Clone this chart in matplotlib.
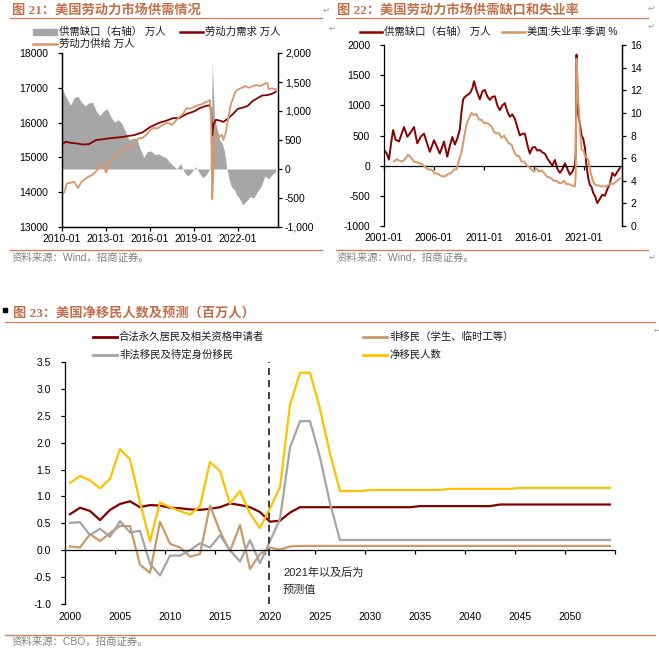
import numpy as np
import pandas as pd
import matplotlib
matplotlib.use("Agg")
import matplotlib.pyplot as plt
import matplotlib.dates as mdates
from matplotlib.lines import Line2D
from matplotlib.patches import Rectangle
from matplotlib.ticker import FormatStrFormatter, FuncFormatter

plt.rcParams['font.family'] = ['Liberation Sans', 'Noto Sans CJK SC', 'DejaVu Sans']
plt.rcParams['font.size'] = 7.5
plt.rcParams['axes.unicode_minus'] = False

# ---------------- data ----------------
# Chart 21 : labour demand / supply (万人)
demand_dates = ["2010-01", "2010-04", "2010-08", "2011-01", "2011-06", "2011-11", "2012-05", "2012-10",
                "2013-04", "2013-10", "2014-03", "2014-08", "2014-12", "2015-07", "2016-01", "2016-04",
                "2016-09", "2017-02", "2017-08", "2018-01", "2018-07", "2019-01", "2019-06", "2019-11",
                "2020-02", "2020-03", "2020-04", "2020-05", "2020-07", "2020-10", "2021-01", "2021-05",
                "2021-09", "2022-01", "2022-05", "2022-09", "2023-01", "2023-05", "2023-09", "2024-01",
                "2024-05", "2024-08"]
demand_vals = [15370, 15450, 15420, 15400, 15370, 15380, 15500, 15520,
               15550, 15570, 15590, 15620, 15640, 15720, 15870, 15920,
               16000, 16050, 16130, 16130, 16250, 16320, 16420, 16480,
               16500, 16350, 15640, 15950, 16080, 16060, 16020, 16120,
               16250, 16400, 16430, 16480, 16620, 16700, 16780, 16790,
               16830, 16890]

supply_dates = ["2010-01", "2010-03", "2010-05", "2010-08", "2010-11", "2011-02", "2011-05", "2011-08",
                "2011-11", "2012-02", "2012-05", "2012-08", "2012-11", "2013-01", "2013-04", "2013-07",
                "2013-10", "2014-01", "2014-04", "2014-07", "2014-10", "2015-01", "2015-04", "2015-07",
                "2015-10", "2016-01", "2016-04", "2016-07", "2016-10", "2017-01", "2017-04", "2017-07",
                "2017-10", "2018-01", "2018-04", "2018-07", "2018-10", "2019-01", "2019-04", "2019-07",
                "2019-10", "2020-01", "2020-02", "2020-03", "2020-04", "2020-05", "2020-06", "2020-08",
                "2020-10", "2020-12", "2021-01", "2021-03", "2021-05", "2021-07", "2021-09", "2021-11",
                "2022-01", "2022-04", "2022-07", "2022-10", "2023-01", "2023-04", "2023-07", "2023-10",
                "2024-01", "2024-02", "2024-05", "2024-08"]
supply_vals = [13950, 14000, 14250, 14270, 14300, 14120, 14300, 14380,
               14450, 14500, 14600, 14750, 14800, 14560, 14850, 14950,
               15050, 15200, 15230, 15330, 15300, 15450, 15550, 15560,
               15650, 15780, 15850, 15830, 15900, 15970, 16000, 15930,
               16050, 16160, 16250, 16420, 16400, 16450, 16500, 16520,
               16580, 16620, 16650, 16250, 13800, 14700, 15500, 15700,
               15600, 15650, 15500, 15700, 16100, 16500, 16700, 16900,
               16950, 17000, 17050, 17000, 17050, 17080, 17050, 17100,
               17140, 16970, 16980, 16960]

# Supply-demand gap (万人), used in chart 21 (from 2010) and chart 22
gap_dates = ["2001-01", "2001-04", "2001-07", "2001-10", "2001-12", "2002-03", "2002-07", "2002-10",
             "2003-01", "2003-05", "2003-08", "2004-01", "2004-05", "2004-09", "2005-01", "2005-04",
             "2005-08", "2006-01", "2006-04", "2006-08", "2007-01", "2007-05", "2007-08", "2007-11",
             "2008-02", "2008-05", "2008-08", "2008-10", "2008-12", "2009-02", "2009-05", "2009-08",
             "2009-11", "2010-01", "2010-04", "2010-08", "2010-11", "2011-02", "2011-05", "2011-08",
             "2011-11", "2012-02", "2012-05", "2012-08", "2012-11", "2013-02", "2013-05", "2013-08",
             "2013-11", "2014-02", "2014-05", "2014-08", "2014-11", "2015-02", "2015-05", "2015-08",
             "2015-11", "2016-02", "2016-05", "2016-08", "2016-11", "2017-02", "2017-05", "2017-08",
             "2017-11", "2018-02", "2018-05", "2018-08", "2018-11", "2019-02", "2019-05", "2019-08",
             "2019-11", "2020-01", "2020-02", "2020-03", "2020-04", "2020-05", "2020-06", "2020-08",
             "2020-10", "2020-12", "2021-02", "2021-04", "2021-06", "2021-08", "2021-10", "2021-12",
             "2022-02", "2022-05", "2022-08", "2022-11", "2023-02", "2023-05", "2023-08", "2023-11",
             "2024-02", "2024-05", "2024-08"]
gap_vals = [260, 210, 100, 420, 590, 430, 400, 520,
            640, 480, 530, 640, 370, 480, 530, 400,
            230, 420, 330, 200, 400, 150, 330, 475,
            350, 450, 600, 900, 1100, 1140, 1170, 1200,
            1280, 1400, 1250, 1100, 1230, 1255, 1150, 1090,
            1140, 1150, 1000, 920, 1000, 1035, 900, 810,
            850, 780, 640, 500, 530, 530, 350, 200,
            300, 310, 250, 260, 220, 200, 120, 60,
            0, 95, -50, -120, -60, 40, -50, -150,
            -100, -30, 0, 200, 1840, 1300, 850, 700,
            500, 450, 300, 0, -200, -320, -350, -450,
            -500, -620, -550, -480, -500, -390, -300, -120,
            -170, -100, -40]

# US unemployment rate, s.a. (%)
unemp_dates = ["2002-01", "2002-04", "2002-07", "2002-10", "2003-01", "2003-06", "2003-09", "2004-01",
               "2004-06", "2004-10", "2005-01", "2005-06", "2005-10", "2006-01", "2006-06", "2006-10",
               "2007-03", "2007-06", "2007-10", "2008-01", "2008-04", "2008-07", "2008-10", "2009-01",
               "2009-04", "2009-07", "2009-10", "2010-01", "2010-04", "2010-07", "2010-10", "2011-01",
               "2011-04", "2011-07", "2011-10", "2012-01", "2012-04", "2012-07", "2012-10", "2013-01",
               "2013-04", "2013-07", "2013-10", "2014-01", "2014-04", "2014-07", "2014-10", "2015-01",
               "2015-04", "2015-07", "2015-10", "2016-01", "2016-04", "2016-07", "2016-10", "2017-01",
               "2017-04", "2017-07", "2017-10", "2018-01", "2018-04", "2018-07", "2018-10", "2019-01",
               "2019-04", "2019-07", "2019-10", "2020-01", "2020-02", "2020-03", "2020-04", "2020-05",
               "2020-06", "2020-07", "2020-08", "2020-09", "2020-10", "2020-12", "2021-03", "2021-06",
               "2021-09", "2021-12", "2022-03", "2022-06", "2022-09", "2022-12", "2023-03", "2023-06",
               "2023-09", "2023-12", "2024-03", "2024-06", "2024-08"]
unemp_vals = [5.7, 5.9, 5.8, 5.7, 5.8, 6.3, 6.1, 5.7,
              5.6, 5.5, 5.3, 5.0, 5.0, 4.7, 4.6, 4.4,
              4.4, 4.6, 4.7, 5.0, 5.0, 5.8, 6.5, 7.8,
              9.0, 9.5, 10.0, 9.8, 9.9, 9.4, 9.4, 9.1,
              9.1, 9.0, 8.8, 8.3, 8.2, 8.2, 7.8, 8.0,
              7.6, 7.3, 7.2, 6.6, 6.2, 6.2, 5.7, 5.7,
              5.4, 5.2, 5.0, 4.8, 5.1, 4.8, 4.9, 4.7,
              4.4, 4.3, 4.2, 4.0, 4.0, 3.8, 3.8, 4.0,
              3.7, 3.7, 3.6, 3.5, 3.5, 4.4, 14.8, 13.2,
              11.0, 10.2, 8.4, 7.8, 6.8, 6.7, 6.1, 5.9,
              4.7, 3.9, 3.6, 3.6, 3.5, 3.5, 3.5, 3.6,
              3.8, 3.7, 3.9, 4.1, 4.2]

# Chart 23 : US net immigration and projection (million)
years23 = list(range(2000, 2055))
legal_perm = ([0.67, 0.79, 0.73, 0.56, 0.75, 0.86, 0.91, 0.80, 0.84, 0.83, 0.79, 0.78,
               0.76, 0.75, 0.77, 0.80, 0.87, 0.84, 0.80, 0.71, 0.53, 0.55, 0.70, 0.80]
              + [0.80] * 11 + [0.82] * 8 + [0.85] * 12)
non_immig = ([0.07, 0.05, 0.30, 0.17, 0.32, 0.45, 0.45, -0.27, -0.42, 0.53, 0.12, 0.05,
              -0.12, -0.07, 0.83, 0.35, -0.02, 0.47, -0.35, -0.07, 0.05, 0.01, 0.07]
             + [0.08] * 32)
other_immig = ([0.51, 0.52, 0.28, 0.40, 0.25, 0.54, 0.33, 0.36, -0.25, -0.47, -0.10, -0.10,
                0.00, 0.13, 0.05, 0.28, 0.00, -0.21, 0.19, -0.24, 0.17, 0.58, 1.91, 2.40,
                2.40, 1.73, 0.87] + [0.19] * 28)
net_immig = ([1.25, 1.38, 1.30, 1.15, 1.33, 1.88, 1.69, 0.89, 0.17, 0.89, 0.80, 0.73,
              0.66, 0.82, 1.64, 1.47, 0.87, 1.10, 0.68, 0.41, 0.78, 1.17, 2.70, 3.30,
              3.30, 2.63, 1.80] + [1.10] * 3 + [1.12] * 8 + [1.14] * 7 + [1.16] * 10)

# ---------------- styling ----------------
W, H = 659, 654
TITLE_C = '#C0704B'
RULE_C = '#C98462'
SRC_C = '#808080'
DRED = '#8B0000'
TAN = '#D9976A'
GREY_AREA = '#A6A6A6'
C23_RED = '#800000'
C23_TAN = '#CC9966'
C23_GREY = '#A5A5A5'
C23_YEL = '#FFC000'

fig = plt.figure(figsize=(W / 100, H / 100), dpi=100)
fig.patch.set_facecolor('white')


def fx(x):
    return x / W


def fy(y):
    return 1 - y / H


def rect(l, t, r, b):
    return [l / W, 1 - b / H, (r - l) / W, (b - t) / H]


def hline(x0, x1, y, color, lw=1.0):
    fig.add_artist(Line2D([fx(x0), fx(x1)], [fy(y), fy(y)], color=color, lw=lw,
                          transform=fig.transFigure))


def title(x, y, s):
    fig.text(fx(x), fy(y), s, color=TITLE_C, fontsize=9.5, fontweight='bold',
             va='center', ha='left', family=['Liberation Serif', 'Noto Sans CJK SC'])


def src(x, y, s):
    fig.text(fx(x), fy(y), s, color=SRC_C, fontsize=7.5, va='center', ha='left')


def leg_line(x0, x1, y, color, lw, text):
    hline(x0, x1, y, color, lw)
    fig.text(fx(x1 + 2), fy(y), text, fontsize=7.5, va='center', ha='left', color='#1a1a1a')


def retmark(x, y):
    fig.text(fx(x), fy(y), '↵', fontsize=6, color='#9a9a9a', va='center', ha='center',
             family=['DejaVu Sans'])


def to_num(dates):
    return mdates.date2num(pd.to_datetime(dates))


# ---------------- headers ----------------
title(12, 10, '图 21：美国劳动力市场供需情况')
hline(10, 322, 18, RULE_C, 1.0)
title(337, 10, '图 22：美国劳动力市场供需缺口和失业率')
hline(336, 648, 18, RULE_C, 1.0)
retmark(326, 10)
retmark(651, 8)
retmark(651, 26)
retmark(332, 28)

hline(10, 322, 250, RULE_C, 1.0)
hline(336, 648, 250, RULE_C, 1.0)
src(12, 258, '资料来源：Wind，招商证券。')
src(337, 258, '资料来源：Wind，招商证券。')
retmark(652, 257)

fig.add_artist(Rectangle((fx(3), fy(312)), 3.5 / W, 4.5 / H, color='black',
                         transform=fig.transFigure))
title(13, 313, '图 23：美国净移民人数及预测（百万人）')
hline(5, 655, 322, RULE_C, 1.0)
retmark(657, 330)
hline(5, 655, 635, RULE_C, 1.0)
src(12, 642, '资料来源：CBO，招商证券。')

# ---------------- chart 21 ----------------
ax1 = fig.add_axes(rect(62, 53, 278, 227))
ax1r = ax1.twinx()
gx = to_num(gap_dates)
gv = np.array(gap_vals, dtype=float)
m = gx >= mdates.date2num(pd.Timestamp('2010-01-01'))
ax1r.fill_between(gx[m], gv[m], 0, color=GREY_AREA, lw=0)
ax1.set_zorder(ax1r.get_zorder() + 1)
ax1.patch.set_visible(False)
ax1.plot(to_num(demand_dates), demand_vals, color=DRED, lw=1.3)
ax1.plot(to_num(supply_dates), supply_vals, color=TAN, lw=1.3)

ax1.set_ylim(13000, 18000)
ax1r.set_ylim(-1000, 2000)
ax1.set_xlim(mdates.date2num(pd.Timestamp('2010-01-01')), mdates.date2num(pd.Timestamp('2024-09-24')))
ax1.set_yticks(np.arange(13000, 18001, 1000))
ax1r.set_yticks(np.arange(-1000, 2001, 500))
ax1r.yaxis.set_major_formatter(FuncFormatter(lambda v, p: f'{int(v):,}'))
t21 = ['2010-01', '2013-01', '2016-01', '2019-01', '2022-01']
ax1.set_xticks(to_num(t21))
ax1.set_xticklabels(t21)
for a in (ax1, ax1r):
    a.spines['top'].set_visible(False)
    for s in a.spines.values():
        s.set_linewidth(0.9)
ax1.tick_params(axis='x', length=3, width=0.9, pad=2)
ax1.tick_params(axis='y', length=3, width=0.9, pad=7)
ax1r.tick_params(axis='y', length=3, width=0.9, pad=2)

leg_x = 33
fig.add_artist(Rectangle((fx(33), fy(35)), 24 / W, 6 / H, color=GREY_AREA, transform=fig.transFigure))
fig.text(fx(59), fy(32), '供需缺口（右轴） 万人', fontsize=7.5, va='center', ha='left', color='#1a1a1a')
leg_line(180, 203, 32, DRED, 1.8, '劳动力需求 万人')
leg_line(33, 57, 44, TAN, 1.8, '劳动力供给 万人')

# ---------------- chart 22 ----------------
ax2 = fig.add_axes(rect(384, 45, 622, 226))
ax2.plot(gx, gv, color=DRED, lw=1.4)
ax2r = ax2.twinx()
ax2r.plot(to_num(unemp_dates), unemp_vals, color=TAN, lw=1.4)
ax2.set_ylim(-1000, 2000)
ax2r.set_ylim(0, 16)
ax2.set_xlim(mdates.date2num(pd.Timestamp('2001-01-01')), mdates.date2num(pd.Timestamp('2024-10-18')))
ax2.set_yticks(np.arange(-1000, 2001, 500))
ax2r.set_yticks(np.arange(0, 17, 2))
t22 = ['2001-01', '2006-01', '2011-01', '2016-01', '2021-01']
ax2.spines['bottom'].set_position(('data', 0))
ax2.spines['top'].set_visible(False)
for s in ('top', 'bottom', 'left'):
    ax2r.spines[s].set_visible(False)
for a in (ax2, ax2r):
    for s in a.spines.values():
        s.set_linewidth(0.9)
ax2.set_xticks(to_num(t22))
ax2.set_xticklabels([])
ax2.tick_params(axis='x', length=3, width=0.9)
ax2.tick_params(axis='y', length=3, width=0.9, pad=7)
ax2r.tick_params(axis='y', length=3, width=0.9, pad=3)
sec2 = ax2.secondary_xaxis(0.0)
sec2.spines['bottom'].set_visible(False)
sec2.set_xticks(to_num(t22), t22)
sec2.tick_params(length=0, pad=5)

leg_line(360, 382, 32, DRED, 1.8, '供需缺口（右轴） 万人')
leg_line(502, 525, 32, TAN, 1.8, '美国:失业率:季调 %')

# ---------------- chart 23 ----------------
ax3 = fig.add_axes(rect(65, 362, 615, 604))
ax3.plot(years23, legal_perm, color=C23_RED, lw=1.6)
ax3.plot(years23, non_immig, color=C23_TAN, lw=1.6)
ax3.plot(years23, other_immig, color=C23_GREY, lw=1.6)
ax3.plot(years23, net_immig, color=C23_YEL, lw=1.6)
ax3.axvline(2019.85, color='#404040', lw=1.4, ls=(0, (3.6, 2.6)))
ax3.set_xlim(1999.5, 2054.5)
ax3.set_ylim(-1.0, 3.5)
ax3.set_yticks(np.arange(-1.0, 3.51, 0.5))
ax3.yaxis.set_major_formatter(FormatStrFormatter('%.1f'))
ax3.spines['top'].set_visible(False)
ax3.spines['right'].set_visible(False)
ax3.spines['bottom'].set_position(('data', 0))
for s in ax3.spines.values():
    s.set_linewidth(0.9)
ax3.set_xticks(np.arange(2004.5, 2055, 5))
ax3.set_xticklabels([])
ax3.tick_params(axis='x', length=3, width=0.9)
ax3.tick_params(axis='y', length=3, width=0.9, pad=7)
sec3 = ax3.secondary_xaxis(0.0)
sec3.spines['bottom'].set_visible(False)
lab23 = list(range(2000, 2051, 5))
sec3.set_xticks(lab23, [str(v) for v in lab23])
sec3.tick_params(length=0, pad=6)
ax3.text(2021.3, -0.41, '2021年以及后为', fontsize=8, va='center', ha='left', color='#262626')
ax3.text(2021.3, -0.74, '预测值', fontsize=8, va='center', ha='left', color='#262626')

leg_line(93, 117, 337, C23_RED, 2.0, '合法永久居民及相关资格申请者')
leg_line(363, 387, 337, C23_TAN, 2.0, '非移民（学生、临时工等）')
leg_line(93, 117, 355, C23_GREY, 2.0, '非法移民及待定身份移民')
leg_line(363, 387, 355, C23_YEL, 2.0, '净移民人数')

fig.savefig('out.png', dpi=100, facecolor='white')
